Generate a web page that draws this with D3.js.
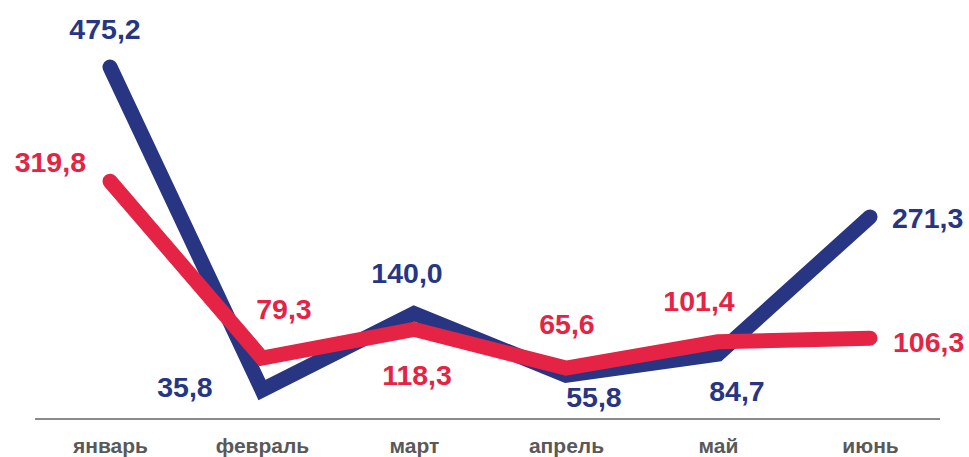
<!DOCTYPE html>
<html>
<head>
<meta charset="utf-8">
<script src="https://cdn.jsdelivr.net/npm/d3@7/dist/d3.min.js"></script>
<style>
  html, body { margin: 0; padding: 0; background: #fff; }
  svg { display: block; }
</style>
</head>
<body>
<svg id="chart" width="969" height="457"></svg>
<script>
// ---- data ----
const categories = ["январь", "февраль", "март", "апрель", "май", "июнь"];
const seriesBlue = [475.2, 35.8, 140.0, 55.8, 84.7, 271.3];
const seriesRed  = [319.8, 79.3, 118.3, 65.6, 101.4, 106.3];
const blueLabels = ["475,2", "35,8", "140,0", "55,8", "84,7", "271,3"];
const redLabels  = ["319,8", "79,3", "118,3", "65,6", "101,4", "106,3"];

// ---- label placement (layout only) ----
const blueLabelPos = [
  {dx: -5,  dy: -28, a: "middle"},
  {dx: -77, dy: 7,   a: "middle"},
  {dx: -7,  dy: -30, a: "middle"},
  {dx: 28,  dy: 32,  a: "middle"},
  {dx: 19,  dy: 47,  a: "middle"},
  {dx: 22,  dy: 11,  a: "start"}
];
const redLabelPos = [
  {dx: -24, dy: -9,  a: "end"},
  {dx: 22,  dy: -39, a: "middle"},
  {dx: 3,   dy: 56,  a: "middle"},
  {dx: 1,   dy: -34, a: "middle"},
  {dx: -19, dy: -31, a: "middle"},
  {dx: 23,  dy: 14,  a: "start"}
];

const BLUE = "#283583";
const RED = "#E52345";

const svg = d3.select("#chart");

const x = d3.scalePoint().domain(categories).range([110, 870]);
const y = d3.scaleLinear().domain([0, 500]).range([416.3, 48.8]);

// axis baseline
const xAxis = d3.axisBottom(x).tickSize(0).tickPadding(22);
const gAxis = svg.append("g").attr("transform", "translate(0,419)").call(xAxis);
gAxis.select(".domain").remove();
gAxis.append("line")
  .attr("x1", 35 - 0).attr("x2", 940)
  .attr("y1", 0).attr("y2", 0)
  .attr("stroke", "#8a8a8a").attr("stroke-width", 2);
gAxis.selectAll(".tick text")
  .attr("font-family", "'Liberation Sans', Arial, sans-serif")
  .attr("font-weight", "bold")
  .attr("font-size", 21)
  .attr("fill", "#595959")
  .attr("dy", 0)
  .attr("y", 34);

const line = d3.line()
  .x((d, i) => x(categories[i]))
  .y(d => y(d));

function drawSeries(vals, color) {
  svg.append("path")
    .datum(vals)
    .attr("d", line)
    .attr("fill", "none")
    .attr("stroke", color)
    .attr("stroke-width", 15)
    .attr("stroke-linecap", "round")
    .attr("stroke-linejoin", "miter");
}
drawSeries(seriesBlue, BLUE);
drawSeries(seriesRed, RED);

function drawLabels(vals, labels, pos, color) {
  svg.append("g").selectAll("text")
    .data(vals)
    .join("text")
    .attr("x", (d, i) => x(categories[i]) + pos[i].dx)
    .attr("y", (d, i) => y(d) + pos[i].dy)
    .attr("text-anchor", (d, i) => pos[i].a)
    .attr("font-family", "'Liberation Sans', Arial, sans-serif")
    .attr("font-weight", "bold")
    .attr("font-size", 28.5)
    .attr("fill", color)
    .text((d, i) => labels[i]);
}
drawLabels(seriesBlue, blueLabels, blueLabelPos, BLUE);
drawLabels(seriesRed, redLabels, redLabelPos, RED);
</script>
</body>
</html>
